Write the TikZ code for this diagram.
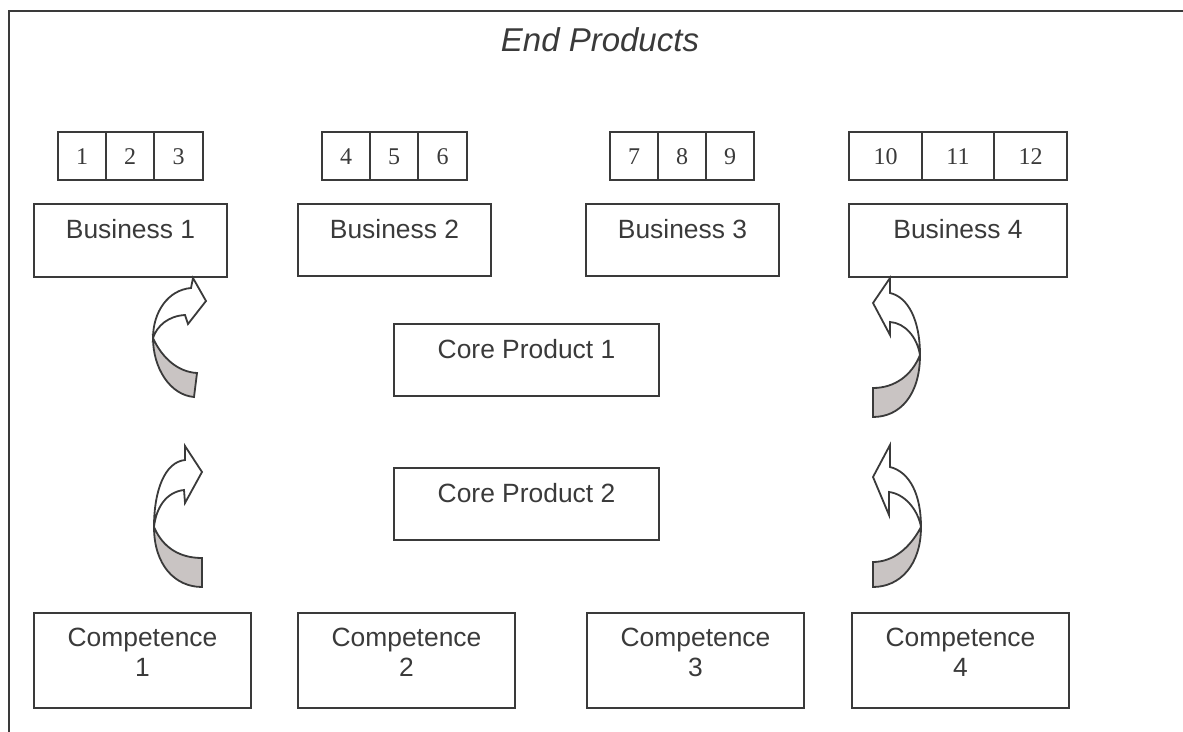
\documentclass[tikz,border=0pt]{standalone}
\usepackage{fontspec}
\setmainfont{Liberation Sans}
\newfontfamily\numfont{Liberation Serif}
\definecolor{ink}{RGB}{58,58,58}
\definecolor{backface}{RGB}{201,196,195}
\tikzset{
  box/.style={draw=ink, line width=1pt, rectangle, inner sep=0pt, anchor=north west},
  cell/.style={draw=ink, line width=1pt, rectangle, inner sep=0pt, anchor=north west,
               font=\numfont\fontsize{12}{14}\selectfont, text=ink},
  lbl/.style={inner sep=0pt, anchor=north, align=center, text=ink,
              font=\fontsize{13.2}{15}\selectfont},
  frontface/.style={draw=ink, line width=0.9pt, fill=white, line join=miter},
  backfacestyle/.style={draw=ink, line width=0.9pt, fill=backface, line join=miter},
  frame/.style={draw=ink, line width=1pt}
}
\begin{document}
\begin{tikzpicture}[x=0.5pt,y=-0.5pt]
\useasboundingbox (0,0) rectangle (1183,732);
% outer frame (top and left only)
\coordinate (fTR) at (1183,11);
\coordinate (fTL) at (9,11);
\coordinate (fBL) at (9,732);
\draw[frame] (fTR) -- (fTL) -- (fBL);

% title
\node[inner sep=0pt, anchor=base, text=ink, font=\itshape\fontsize{16.5}{18}\selectfont] (title) at (600,52) {End Products};

% number cells
\foreach \name/\x/\w/\t in {n1/57/48/1, n2/105/48/2, n3/153/49/3,
                            n4/321/48/4, n5/369/48/5, n6/417/49/6,
                            n7/609/48/7, n8/657/48/8, n9/705/48/9,
                            n10/848/73/10, n11/921/72/11, n12/993/73/12}{
  \node[cell, minimum width=\w*0.5pt, minimum height=48*0.5pt, text depth=0pt,
        text height=8.1pt] (\name) at (\x,131) {\t};
}

% business boxes
\node[box, minimum width=193*0.5pt, minimum height=73*0.5pt] (b1) at (33,203) {};
\node[box, minimum width=193*0.5pt, minimum height=72*0.5pt] (b2) at (297,203) {};
\node[box, minimum width=193*0.5pt, minimum height=72*0.5pt] (b3) at (585,203) {};
\node[box, minimum width=218*0.5pt, minimum height=73*0.5pt] (b4) at (848,203) {};
\node[lbl] (b1t) at ([yshift=-7.9pt]b1.north) {Business 1};
\node[lbl] (b2t) at ([yshift=-7.9pt]b2.north) {Business 2};
\node[lbl] (b3t) at ([yshift=-7.9pt]b3.north) {Business 3};
\node[lbl] (b4t) at ([yshift=-7.9pt]b4.north) {Business 4};

% core products
\node[box, minimum width=265*0.5pt, minimum height=72*0.5pt] (cp1) at (393,323) {};
\node[box, minimum width=265*0.5pt, minimum height=72*0.5pt] (cp2) at (393,467) {};
\node[lbl] (cp1t) at ([yshift=-7.9pt]cp1.north) {Core Product 1};
\node[lbl] (cp2t) at ([yshift=-7.9pt]cp2.north) {Core Product 2};

% competences
\node[box, minimum width=217*0.5pt, minimum height=95*0.5pt] (c1) at (33,612) {};
\node[box, minimum width=217*0.5pt, minimum height=95*0.5pt] (c2) at (297,612) {};
\node[box, minimum width=217*0.5pt, minimum height=95*0.5pt] (c3) at (586,612) {};
\node[box, minimum width=217*0.5pt, minimum height=95*0.5pt] (c4) at (851,612) {};
\node[lbl] (c1t) at ([yshift=-7.9pt]c1.north) {Competence\\1};
\node[lbl] (c2t) at ([yshift=-7.9pt]c2.north) {Competence\\2};
\node[lbl] (c3t) at ([yshift=-7.9pt]c3.north) {Competence\\3};
\node[lbl] (c4t) at ([yshift=-7.9pt]c4.north) {Competence\\4};

% ---- curved ribbon arrows ----
% left-top
\path[backfacestyle] (153,338) .. controls (153,368) and (170,395) .. (194,397)
   -- (197,373) .. controls (178,372) and (162,358) .. (153,338) -- cycle;
\path[frontface] (191,288) -- (193,278) -- (206,301) -- (188,324) -- (185,315)
   .. controls (168,316) and (157,326) .. (153,338)
   .. controls (153,312) and (168,290) .. (191,288) -- cycle;

% left-bottom
\path[backfacestyle] (154,527) .. controls (154,565) and (175,587) .. (202,587)
   -- (202,558) .. controls (180,558) and (163,548) .. (154,527) -- cycle;
\path[frontface] (185,460) -- (185,446) -- (202,472) -- (185,503) -- (184,490)
   .. controls (166,492) and (156,508) .. (154,527)
   .. controls (154,490) and (165,462) .. (185,460) -- cycle;

% right-top
\path[backfacestyle] (920,355) .. controls (920,395) and (900,417) .. (873,417)
   -- (873,388) .. controls (895,388) and (912,375) .. (920,355) -- cycle;
\path[frontface] (890,293) -- (890,278) -- (873,303) -- (890,335) -- (890,322)
   .. controls (905,323) and (917,337) .. (920,355)
   .. controls (920,320) and (908,297) .. (890,293) -- cycle;

% right-bottom
\path[backfacestyle] (921,527) .. controls (921,565) and (900,587) .. (873,587)
   -- (873,562) .. controls (893,562) and (910,548) .. (921,527) -- cycle;
\path[frontface] (890,467) -- (890,445) -- (873,477) -- (889,515) -- (889,492)
   .. controls (905,494) and (918,510) .. (921,527)
   .. controls (921,495) and (910,472) .. (890,467) -- cycle;
\end{tikzpicture}
\end{document}
